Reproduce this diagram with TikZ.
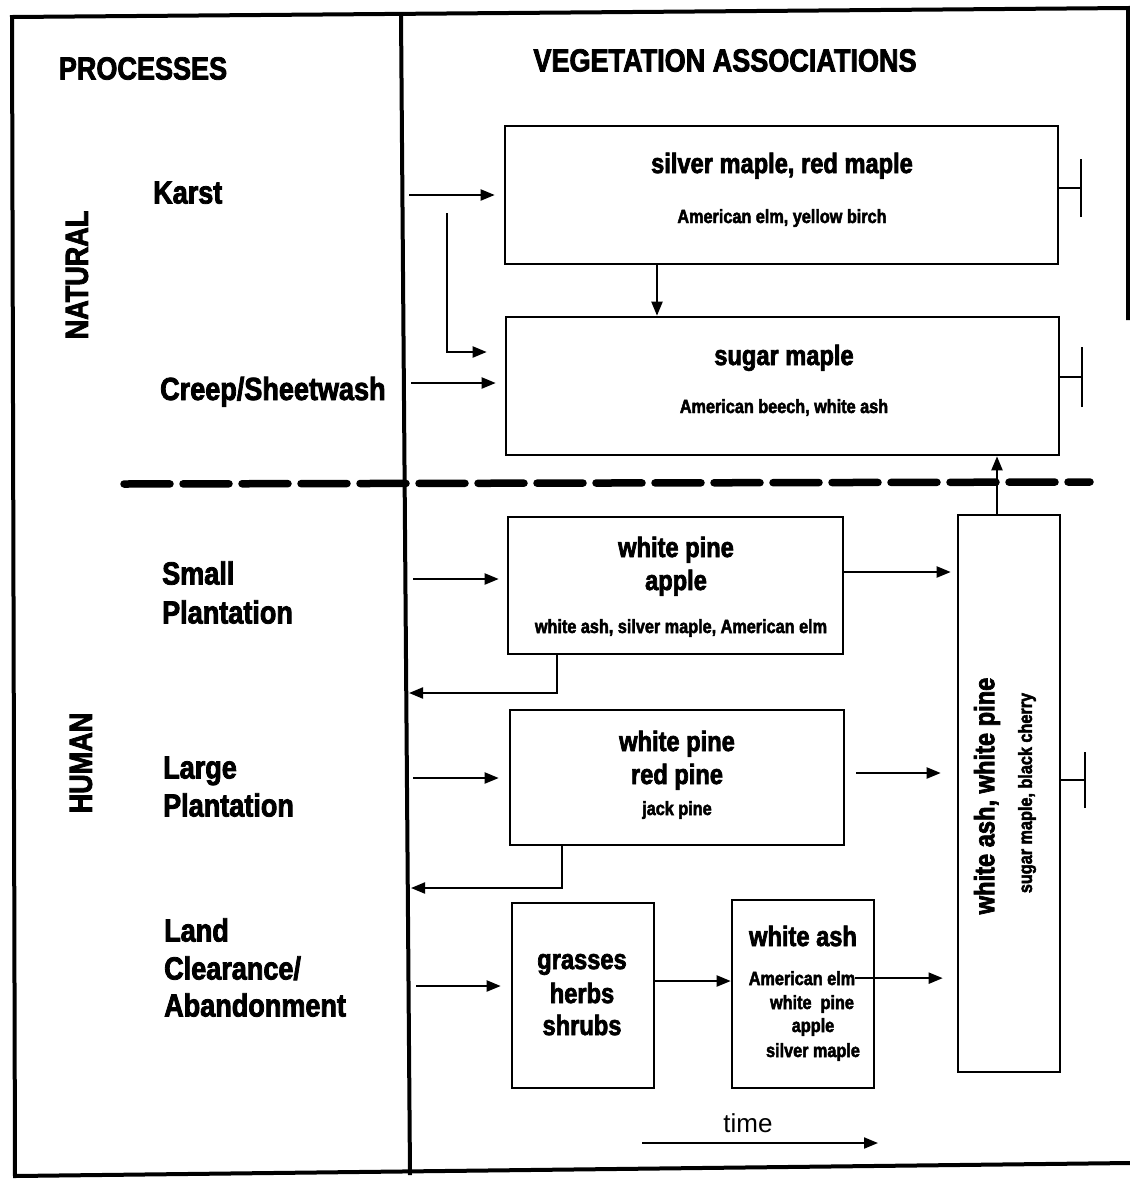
\documentclass[tikz,border=0pt]{standalone}
\usepackage{fontspec}
\setmainfont{Liberation Sans}
\newfontfamily\hv{Liberation Sans Bold}[FakeStretch=0.845, FakeBold=2.5]
\usetikzlibrary{arrows.meta}

\begin{document}
\begin{tikzpicture}[x=1pt, y=-1pt,
  hd/.style={font=\hv\fontsize{32}{38}\selectfont, inner sep=0pt},
  proc/.style={hd, anchor=base west},
  ttl/.style={font=\hv\fontsize{28}{33}\selectfont, inner sep=0pt, anchor=base},
  sub/.style={font=\hv\fontsize{19.2}{24}\selectfont, inner sep=0pt, anchor=base},
  vbox/.style={draw, line width=2.6pt, inner sep=0pt},
  arr/.style={line width=2pt, -{Triangle[length=14pt, width=11pt]}},
  frame/.style={line width=4pt},
  tick/.style={line width=2.6pt}]

\useasboundingbox (0,0) rectangle (1130,1179);
\fill[white] (0,0) rectangle (1130,1179);

% outer frame and column divider
\draw[frame] (1128,320) -- (1128,8) -- (12,17) -- (15,1176) -- (1130,1163);
\draw[frame] (401,14) -- (410,1175);

% natural / human separation
\draw[line width=7.5pt, dash pattern=on 46pt off 13pt, line cap=round] (124,484) -- (1090,482);

% column headings
\node[hd, anchor=base] (hproc) at (143,79.5) {PROCESSES};
\node[hd, anchor=base] (hveg) at (725,71.5) {VEGETATION ASSOCIATIONS};

% group labels
\node[hd, rotate=90] (gnat) at (77,275) {NATURAL};
\node[hd, rotate=90] (ghum) at (81,763) {HUMAN};

% processes
\node[proc] (pkarst) at (153,203.5) {Karst};
\node[proc] (pcreep) at (160,400) {Creep/Sheetwash};
\node[proc] (psmall1) at (162,584.5) {Small};
\node[proc] (psmall2) at (162,623.5) {Plantation};
\node[proc] (plarge1) at (163,778.5) {Large};
\node[proc] (plarge2) at (163,816.5) {Plantation};
\node[proc] (pland1) at (164,941.5) {Land};
\node[proc] (pland2) at (164,979.5) {Clearance/};
\node[proc] (pland3) at (164,1016.5) {Abandonment};

% vegetation boxes
\node[vbox, minimum width=553pt, minimum height=138pt] (B1) at (781.5,195) {};
\node[vbox, minimum width=553pt, minimum height=138pt] (B2) at (782.5,386) {};
\node[vbox, minimum width=335pt, minimum height=137pt] (B3) at (675.5,585.5) {};
\node[vbox, minimum width=334pt, minimum height=135pt] (B4) at (677,777.5) {};
\node[vbox, minimum width=142pt, minimum height=185pt] (B5) at (583,995.5) {};
\node[vbox, minimum width=142pt, minimum height=188pt] (B6) at (803,994) {};
\node[vbox, minimum width=102pt, minimum height=557pt] (B7) at (1009,793.5) {};

% box texts
\node[ttl] (t1a) at (782,173) {silver maple, red maple};
\node[sub] (t1b) at (782,223) {American elm, yellow birch};
\node[ttl] (t2a) at (784,365) {sugar maple};
\node[sub] (t2b) at (784,413) {American beech, white ash};
\node[ttl] (t3a) at (676,557) {white pine};
\node[ttl] (t3b) at (676,590) {apple};
\node[sub] (t3c) at (681,633) {white ash, silver maple, American elm};
\node[ttl] (t4a) at (677,751) {white pine};
\node[ttl] (t4b) at (677,784) {red pine};
\node[sub] (t4c) at (677,815) {jack pine};
\node[ttl] (t5a) at (582,969) {grasses};
\node[ttl] (t5b) at (582,1003) {herbs};
\node[ttl] (t5c) at (582,1035) {shrubs};
\node[ttl] (t6a) at (803,946) {white ash};
\node[sub] (t6b) at (802,985) {American elm};
\node[sub] (t6c) at (812,1009) {white\ \ pine};
\node[sub] (t6d) at (813,1032) {apple};
\node[sub] (t6e) at (813,1057) {silver maple};
\node[ttl, anchor=center, rotate=90] (t7a) at (987,796) {white ash, white pine};
\node[sub, anchor=center, rotate=90] (t7b) at (1027,793) {sugar maple, black cherry};

% time axis
\node[font=\fontsize{26}{30}\selectfont, inner sep=0pt, anchor=base] (tlab) at (748,1132) {time};
\coordinate (ta) at (642,1143);
\coordinate (tb) at (878,1143);
\draw[arr] (ta) -- (tb);

% helper points for connectors
\coordinate (ka) at (409,195);
\coordinate (kb) at (447,213);
\coordinate (kc) at (447,352);
\coordinate (ca) at (411,383);
\coordinate (m1) at (657,0);
\coordinate (s3) at (413,579);
\coordinate (e3) at (0,572);
\coordinate (r3) at (557,693);
\coordinate (b3) at (409,693);
\coordinate (s4) at (413,778);
\coordinate (x4) at (856,773);
\coordinate (r4) at (562,888);
\coordinate (b4) at (411,888);
\coordinate (s5) at (416,986);
\coordinate (g6) at (0,981);
\coordinate (u7) at (997,0);
\coordinate (k1) at (1081,188);
\coordinate (k2) at (1082,377);
\coordinate (k7) at (1085,780);

% natural processes
\draw[arr, shorten >=9pt] (ka) -- (ka -| B1.west);
\draw[arr, shorten >=18pt] (kb) -- (kc) -- (kc -| B2.west);
\draw[arr, shorten >=9pt] (ca) -- (ca -| B2.west);
\draw[arr] (B1.south -| m1) -- (B2.north -| m1);

% human processes
\draw[arr, shorten >=8pt] (s3) -- (s3 -| B3.west);
\draw[arr, shorten >=6pt] (B3.east |- e3) -- (e3 -| B7.west);
\draw[arr] (B3.south -| r3) -- (r3) -- (b3);
\draw[arr, shorten >=10pt] (s4) -- (s4 -| B4.west);
\draw[arr, shorten >=16pt] (x4) -- (x4 -| B7.west);
\draw[arr] (B4.south -| r4) -- (r4) -- (b4);
\draw[arr, shorten >=10pt] (s5) -- (s5 -| B5.west);
\draw[arr] (B5.east |- g6) -- (g6 -| B6.west);
\draw[arr, shorten >=14pt] (t6b.east) -- (t6b.east -| B7.west);
\draw[arr] (B7.north -| u7) -- (B2.south -| u7);

% end markers
\draw[tick] (B1.east |- k1) -- (k1);
\draw[tick] ([yshift=-29pt]k1) -- ([yshift=29pt]k1);
\draw[tick] (B2.east |- k2) -- (k2);
\draw[tick] ([yshift=-30pt]k2) -- ([yshift=30pt]k2);
\draw[tick] (B7.east |- k7) -- (k7);
\draw[tick] ([yshift=-28pt]k7) -- ([yshift=28pt]k7);
\end{tikzpicture}
\end{document}
